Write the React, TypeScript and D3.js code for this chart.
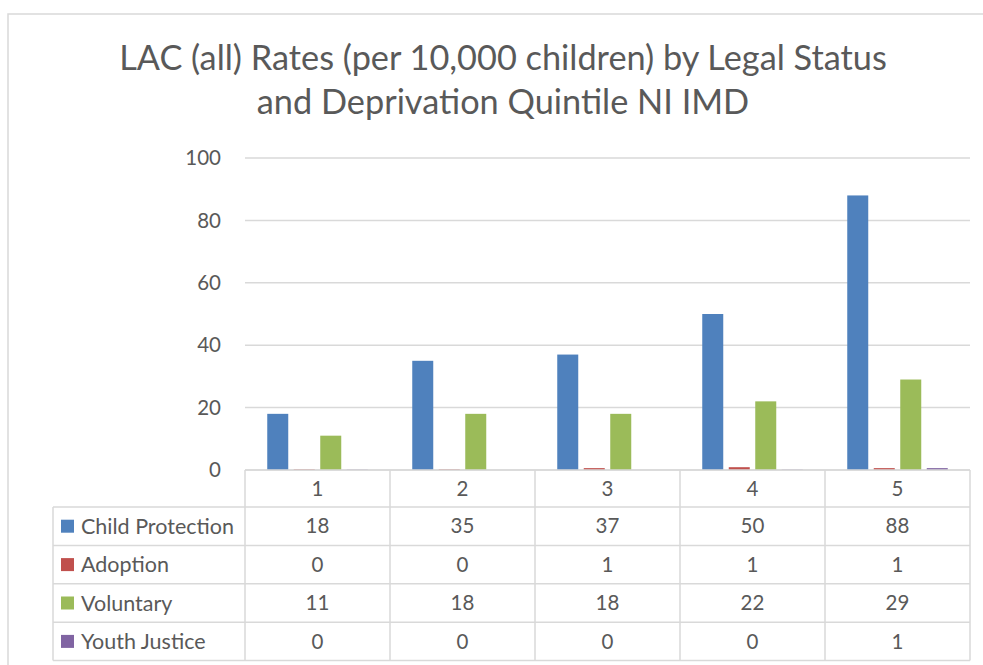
import React from 'react';
import * as d3 from 'd3';

const quintiles = ['1', '2', '3', '4', '5'];
const seriesNames = ['Child Protection', 'Adoption', 'Voluntary', 'Youth Justice'];
const childProtection = [18, 35, 37, 50, 88];
const adoption = [0.2, 0.2, 0.6, 0.9, 0.6];
const voluntary = [11, 18, 18, 22, 29];
const youthJustice = [0.1, 0, 0, 0.1, 0.6];
const seriesColors = ['#4f81bd', '#c0504d', '#9bbb59', '#8064a2'];
const yTicks = [0, 20, 40, 60, 80, 100];
const titleLines = [
  'LAC (all) Rates (per 10,000 children) by Legal Status',
  'and Deprivation Quintile NI IMD',
];

const seriesValues = [childProtection, adoption, voluntary, youthJustice];

const W = 983;
const H = 665;
const plotLeft = 245;
const plotRight = 970;
const plotTop = 158;
const plotBottom = 470;
const tableLeft = 53;
const headerBottom = 507;
const rowH = 38.4;
const textColor = '#595959';
const lineColor = '#d9d9d9';
const font = 'Lato, Calibri, sans-serif';

export default function App() {
  const x = d3.scaleBand<string>().domain(quintiles).range([plotLeft, plotRight]);
  const inner = d3
    .scaleBand<number>()
    .domain(d3.range(seriesNames.length))
    .range([19.5, x.bandwidth() - 19.5]);
  const y = d3.scaleLinear().domain([0, 100]).range([plotBottom, plotTop]);
  const barW = inner.bandwidth() - 5.5;

  const rowTop = (i: number) => headerBottom + i * rowH;
  const tableBottom = rowTop(seriesNames.length);
  const colEdges = [...quintiles.map((q) => x(q) as number), plotRight];

  return (
    <svg
      width={W}
      height={H}
      style={{ position: 'absolute', left: 0, top: 0, background: '#fff' }}
      fontFamily={font}
    >
      <rect x={0} y={0} width={W} height={H} fill="#fff" />
      <rect x={8} y={14} width={1000} height={700} fill="none" stroke={lineColor} strokeWidth={1.5} />

      {/* Title */}
      {titleLines.map((t, i) => (
        <text
          key={i}
          x={503}
          y={69.5 + i * 44}
          textAnchor="middle"
          fontSize={34.3}
          fill={textColor}
        >
          {t}
        </text>
      ))}

      {/* Gridlines and y labels */}
      {yTicks.map((t) => (
        <g key={t}>
          <line
            x1={plotLeft}
            x2={plotRight}
            y1={y(t)}
            y2={y(t)}
            stroke={lineColor}
            strokeWidth={1.5}
          />
          <text x={221} y={y(t)} dy="0.35em" textAnchor="end" fontSize={20.5} fill={textColor}>
            {t}
          </text>
        </g>
      ))}

      {/* Bars */}
      {quintiles.map((q, ci) => (
        <g key={q} transform={`translate(${x(q)},0)`}>
          {seriesValues.map((vals, si) => {
            const cx = (inner(si) as number) + inner.bandwidth() / 2;
            const top = y(vals[ci]);
            return (
              <rect
                key={si}
                x={cx - barW / 2}
                y={top}
                width={barW}
                height={plotBottom - top}
                fill={seriesColors[si]}
              />
            );
          })}
        </g>
      ))}

      {/* Data table */}
      <g stroke={lineColor} strokeWidth={1.5} fill="none">
        <line x1={plotLeft} x2={plotRight} y1={plotBottom} y2={plotBottom} />
        {d3.range(seriesNames.length + 1).map((i) => (
          <line key={i} x1={tableLeft} x2={plotRight} y1={rowTop(i)} y2={rowTop(i)} />
        ))}
        <line x1={tableLeft} x2={tableLeft} y1={headerBottom} y2={tableBottom} />
        {colEdges.map((cx, i) => (
          <line key={i} x1={cx} x2={cx} y1={plotBottom} y2={tableBottom} />
        ))}
      </g>

      {quintiles.map((q) => (
        <text
          key={q}
          x={(x(q) as number) + x.bandwidth() / 2}
          y={(plotBottom + headerBottom) / 2}
          dy="0.35em"
          textAnchor="middle"
          fontSize={20.5}
          fill={textColor}
        >
          {q}
        </text>
      ))}

      {seriesNames.map((name, si) => {
        const cy = rowTop(si) + rowH / 2;
        return (
          <g key={name}>
            <rect x={61} y={cy - 6.5} width={13} height={13} fill={seriesColors[si]} />
            <text x={81} y={cy} dy="0.35em" fontSize={21.5} fill={textColor}>
              {name}
            </text>
            {quintiles.map((q, ci) => (
              <text
                key={q}
                x={(x(q) as number) + x.bandwidth() / 2}
                y={cy}
                dy="0.35em"
                textAnchor="middle"
                fontSize={20.5}
                fill={textColor}
              >
                {Math.round(seriesValues[si][ci])}
              </text>
            ))}
          </g>
        );
      })}
    </svg>
  );
}
